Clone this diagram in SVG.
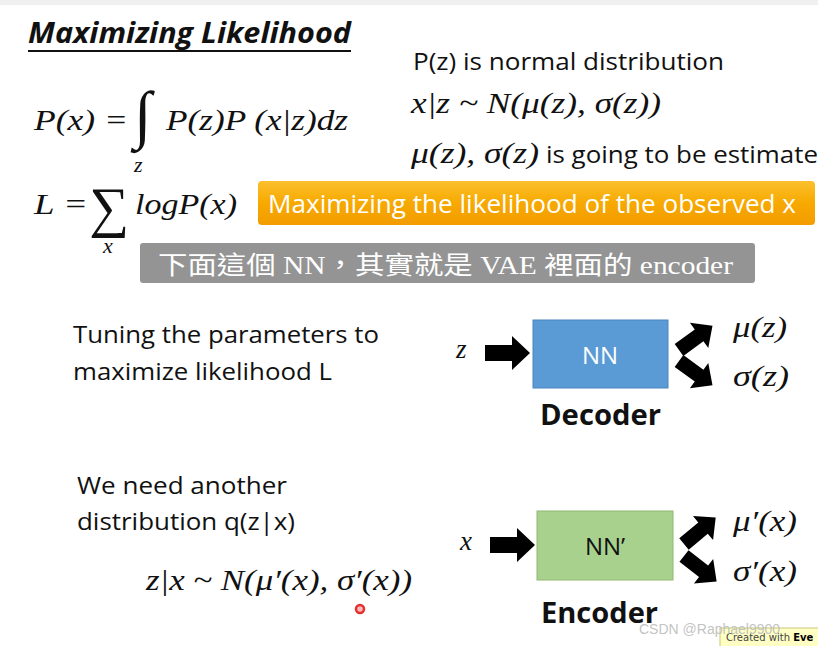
<svg xmlns="http://www.w3.org/2000/svg" width="818" height="646" viewBox="0 0 818 646">
<defs>
<style>
.cal{font-family:"Open Sans","Liberation Sans",sans-serif;fill:#111}
.math{font-family:"Liberation Serif","DejaVu Serif",serif;font-style:italic;fill:#111}
.mathu{font-family:"Liberation Serif","DejaVu Serif",serif;fill:#111}
.bold{font-family:"Open Sans","Liberation Sans",sans-serif;font-weight:bold;fill:#111}
</style>
<linearGradient id="og" x1="0" y1="0" x2="0" y2="1">
<stop offset="0" stop-color="#fbc02d"/>
<stop offset="0.5" stop-color="#f7a900"/>
<stop offset="1" stop-color="#f39c00"/>
</linearGradient>
<path id="barrow" d="M0,-8 L27,-8 L27,-17 L45,0 L27,17 L27,8 L0,8 Z" fill="#000"/>
</defs>
<rect x="0" y="0" width="818" height="646" fill="#fff"/>
<rect x="0" y="0" width="818" height="5" fill="#f0f0f0"/>

<g id="title">
<text x="28" y="43" class="bold" font-style="italic" font-size="28" textLength="323" lengthAdjust="spacingAndGlyphs">Maximizing Likelihood</text>
<line x1="28" y1="51" x2="351" y2="51" stroke="#111" stroke-width="2"/>
</g>

<g id="formula-px">
<text x="34" y="130" class="math" font-size="29" textLength="94" lengthAdjust="spacingAndGlyphs">P(x) =</text>
<text x="134" y="136" class="mathu" font-size="64">∫</text>
<text x="166" y="130" class="math" font-size="29" textLength="182" lengthAdjust="spacingAndGlyphs">P(z)P (x|z)dz</text>
<text x="134" y="172" class="math" font-size="22">z</text>
</g>

<g id="formula-L">
<text x="34" y="214" class="math" font-size="29" textLength="54" lengthAdjust="spacingAndGlyphs">L =</text>
<text x="89" y="226" class="mathu" font-size="56">∑</text>
<text x="135" y="214" class="math" font-size="29" textLength="102" lengthAdjust="spacingAndGlyphs">logP(x)</text>
<text x="103" y="253" class="math" font-size="22">x</text>
</g>

<g id="notes">
<text x="413" y="70" class="cal" font-size="24" textLength="311" lengthAdjust="spacingAndGlyphs">P(z) is normal distribution</text>
<text x="411" y="113" class="math" font-size="29" textLength="250" lengthAdjust="spacingAndGlyphs">x|z ~ N(μ(z), σ(z))</text>
<text x="411" y="163" class="math" font-size="29" textLength="128" lengthAdjust="spacingAndGlyphs">μ(z), σ(z)</text>
<text x="546" y="163" class="cal" font-size="24" textLength="272" lengthAdjust="spacingAndGlyphs">is going to be estimate</text>
</g>

<g id="orange-banner">
<rect x="258" y="181" width="557" height="44" rx="4" fill="url(#og)"/>
<text x="268" y="213" class="cal" style="fill:#fff" font-size="25" textLength="528" lengthAdjust="spacingAndGlyphs">Maximizing the likelihood of the observed x</text>
</g>

<g id="caption">
<rect x="140" y="243" width="615" height="40" rx="3" fill="#949494"/>
<text x="158" y="274" font-family="'Liberation Serif','Noto Sans CJK TC',serif" font-size="25" fill="#fff" textLength="575" lengthAdjust="spacingAndGlyphs">下面這個 NN，其實就是 VAE 裡面的 encoder</text>
</g>

<g id="tuning">
<text x="73" y="343" class="cal" font-size="24" textLength="306" lengthAdjust="spacingAndGlyphs">Tuning the parameters to</text>
<text x="73" y="380" class="cal" font-size="24" textLength="259" lengthAdjust="spacingAndGlyphs">maximize likelihood L</text>
</g>

<g id="another">
<text x="77" y="494" class="cal" font-size="24" textLength="210" lengthAdjust="spacingAndGlyphs">We need another</text>
<text x="77" y="530" class="cal" font-size="24" textLength="218" lengthAdjust="spacingAndGlyphs">distribution q(z|x)</text>
<text x="146" y="590" class="math" font-size="29" textLength="266" lengthAdjust="spacingAndGlyphs">z|x ~ N(μ′(x), σ′(x))</text>
<circle cx="360" cy="609" r="4" fill="#fbb" stroke="#e53030" stroke-width="2.5"/>
</g>

<g id="decoder">
<text x="456" y="358" class="math" font-size="27">z</text>
<rect x="533" y="320" width="135" height="68" fill="#5b9bd5" stroke="#4a86c0" stroke-width="1"/>
<text x="600" y="364" class="cal" style="fill:#fff" font-size="24" text-anchor="middle">NN</text>
<text x="540" y="425" class="bold" font-size="28" textLength="121" lengthAdjust="spacingAndGlyphs">Decoder</text>
<text x="733" y="337" class="math" font-size="30" textLength="54" lengthAdjust="spacingAndGlyphs">μ(z)</text>
<text x="733" y="386" class="math" font-size="30" textLength="56" lengthAdjust="spacingAndGlyphs">σ(z)</text>
</g>

<g id="encoder">
<text x="460" y="550" class="math" font-size="27">x</text>
<rect x="537" y="511" width="136" height="69" fill="#a9d18e" stroke="#8fb873" stroke-width="1"/>
<text x="605" y="555" class="cal" font-size="24" text-anchor="middle">NN’</text>
<text x="541" y="623" class="bold" font-size="28" textLength="117" lengthAdjust="spacingAndGlyphs">Encoder</text>
<text x="733" y="531" class="math" font-size="30" textLength="64" lengthAdjust="spacingAndGlyphs">μ′(x)</text>
<text x="733" y="581" class="math" font-size="30" textLength="64" lengthAdjust="spacingAndGlyphs">σ′(x)</text>
</g>

<g id="connectors">
<use href="#barrow" transform="translate(485,353)"/>
<use href="#barrow" transform="translate(679,350) rotate(-36) scale(0.92)"/>
<use href="#barrow" transform="translate(679,361) rotate(36) scale(0.92)"/>
<use href="#barrow" transform="translate(490,545)"/>
<use href="#barrow" transform="translate(684,544) rotate(-40) scale(0.92)"/>
<use href="#barrow" transform="translate(684,556) rotate(38) scale(0.92)"/>
</g>

<g id="watermark">
<rect x="720" y="628" width="100" height="20" fill="#ffffc4" stroke="#c8c87a" stroke-width="1"/>
<text x="726" y="641" font-family="'DejaVu Sans',sans-serif" font-size="10" fill="#444">Created with <tspan font-weight="bold" fill="#000">Eve</tspan></text>
<text x="639" y="634" font-family="'Liberation Sans',sans-serif" font-size="14" fill="#bbb" fill-opacity="0.9">CSDN @Raphael9900</text>
</g>
</svg>
